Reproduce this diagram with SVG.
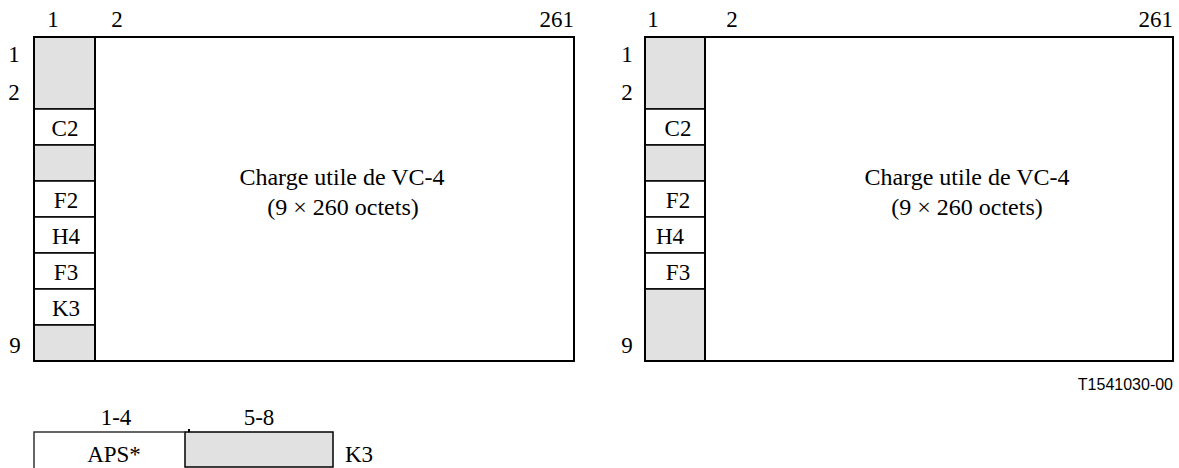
<svg xmlns="http://www.w3.org/2000/svg" width="1179" height="468" viewBox="0 0 1179 468">
<style>
  .t { font-family: 'Liberation Serif', 'Times New Roman', serif; font-size: 23px; fill: #000; }
  .tm { font-family: 'Liberation Serif', 'Times New Roman', serif; font-size: 24px; fill: #000; text-anchor: middle; }
  .c { text-anchor: middle; }
  .e { text-anchor: end; }
  .code { font-family: 'Liberation Sans', Arial, sans-serif; font-size: 16px; fill: #000; text-anchor: end; }
  .frame { fill: #fff; stroke: #000; stroke-width: 2; }
  .g { fill: #e1e1e1; stroke: #000; stroke-width: 1.5; }
  .w { fill: #fff; stroke: #000; stroke-width: 1.5; }
  .col { fill: none; stroke: #000; stroke-width: 2; }
</style>

<g id="vc4-left">
  <rect class="frame" x="34" y="37" width="540" height="324"/>
  <rect class="g" x="34" y="37" width="61" height="72"/>
  <rect class="w" x="34" y="109" width="61" height="36"/>
  <rect class="g" x="34" y="145" width="61" height="36"/>
  <rect class="w" x="34" y="181" width="61" height="36"/>
  <rect class="w" x="34" y="217" width="61" height="36"/>
  <rect class="w" x="34" y="253" width="61" height="36"/>
  <rect class="w" x="34" y="289" width="61" height="36"/>
  <rect class="g" x="34" y="325" width="61" height="36"/>
  <rect class="col" x="34" y="37" width="540" height="324"/>
  <line x1="95" y1="37" x2="95" y2="361" stroke="#000" stroke-width="2"/>
  <text class="t c" x="65" y="136">C2</text>
  <text class="t c" x="66" y="208">F2</text>
  <text class="t c" x="66" y="244">H4</text>
  <text class="t c" x="66" y="280">F3</text>
  <text class="t c" x="66" y="316">K3</text>
  <text class="t c" x="53" y="27">1</text>
  <text class="t c" x="117" y="27">2</text>
  <text class="t e" x="574" y="27">261</text>
  <text class="t c" x="14" y="62">1</text>
  <text class="t c" x="14" y="100">2</text>
  <text class="t c" x="15" y="353">9</text>
  <text class="tm" x="342" y="185">Charge utile de VC-4</text>
  <text class="tm" x="343" y="215">(9 × 260 octets)</text>
</g>

<g id="vc4-right">
  <rect class="frame" x="645" y="37" width="528" height="324"/>
  <rect class="g" x="645" y="37" width="60" height="72"/>
  <rect class="w" x="645" y="109" width="60" height="36"/>
  <rect class="g" x="645" y="145" width="60" height="36"/>
  <rect class="w" x="645" y="181" width="60" height="36"/>
  <rect class="w" x="645" y="217" width="60" height="36"/>
  <rect class="w" x="645" y="253" width="60" height="36"/>
  <rect class="g" x="645" y="289" width="60" height="72"/>
  <rect class="col" x="645" y="37" width="528" height="324"/>
  <line x1="705" y1="37" x2="705" y2="361" stroke="#000" stroke-width="2"/>
  <text class="t c" x="678" y="136">C2</text>
  <text class="t c" x="678" y="208">F2</text>
  <text class="t c" x="670" y="244">H4</text>
  <text class="t c" x="678" y="280">F3</text>
  <text class="t c" x="653" y="27">1</text>
  <text class="t c" x="732" y="27">2</text>
  <text class="t e" x="1173" y="27">261</text>
  <text class="t c" x="627" y="62">1</text>
  <text class="t c" x="627" y="100">2</text>
  <text class="t c" x="627" y="353">9</text>
  <text class="tm" x="967" y="185">Charge utile de VC-4</text>
  <text class="tm" x="967" y="215">(9 × 260 octets)</text>
</g>

<g id="k3-byte">
  <rect class="g" x="185" y="432" width="148" height="35"/>
  <path d="M34 470 L34 432 L185 432" fill="none" stroke="#333" stroke-width="1.5"/>
  <line x1="189" y1="429" x2="189" y2="432" stroke="#000" stroke-width="2"/>
  <text class="t c" x="116" y="425">1-4</text>
  <text class="t c" x="259" y="425">5-8</text>
  <text class="t c" x="114" y="462">APS*</text>
  <text class="t" x="345" y="462">K3</text>
</g>

<g id="figure-code">
  <text class="code" x="1173" y="390">T1541030-00</text>
</g>

<g id="connectors"/>
</svg>
